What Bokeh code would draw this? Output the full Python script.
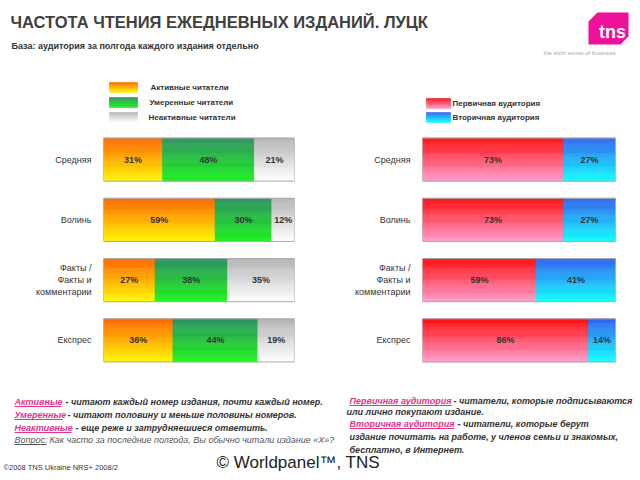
from bokeh.plotting import figure
from bokeh.layouts import column, row
from bokeh.models import ColumnDataSource, Range1d, FixedTicker
from bokeh.embed import file_html
from bokeh.resources import INLINE
from bokeh.core.properties import value

# ---------------- data ----------------
TITLE = "ЧАСТОТА ЧТЕНИЯ ЕЖЕДНЕВНЫХ ИЗДАНИЙ. ЛУЦК"
SUBTITLE = "База: аудитория за полгода каждого издания отдельно"
categories = ["Средняя", "Волинь", "Факты /\nФакты и\nкомментарии", "Експрес"]
active = [31, 59, 27, 36]
moderate = [48, 30, 38, 44]
inactive = [21, 12, 35, 19]
primary = [73, 73, 59, 86]
secondary = [27, 27, 41, 14]
freq_labels = ["Активные читатели", "Умеренные читатели", "Неактивные читатели"]
aud_labels = ["Первичная аудитория", "Вторичная аудитория"]

notes_left = [
    ("Активные", "- читают каждый номер издания, почти каждый номер."),
    ("Умеренные", "- читают половину и меньше  половины номеров."),
    ("Неактивные", "- еще реже и затрудняешиеся ответить."),
]
question_link = "Вопрос:"
question_text = "Как часто за последние полгода, Вы обычно читали издание «Х»?"
notes_right = [
    ("Первичная аудитория", "- читатели, которые подписываются", "или лично покупают издание."),
    ("Вторичная аудитория", "- читатели, которые берут",
     "издание почитать на работе, у членов семьи и знакомых,\nбесплатно, в Интернет."),
]
COPYRIGHT = "©2008 TNS Ukraine  NRS+ 2008/2"
WORLDPANEL = "© Worldpanel™, TNS"

# ---------------- styles ----------------
FONT = value("Liberation Sans")
G_ACTIVE = ("#ff6400", "#fff600")
G_MODERATE = ("#2e8f62", "#1cf21c")
G_INACTIVE = ("#b3b3b3", "#ffffff")
G_PRIMARY = ("#ff0d0d", "#ff9ccc")
G_SECONDARY = ("#3361f0", "#10ffff")
LINK = "#e3338b"
DARK = "#333333"


def blend(c1, c2, t):
    a = [int(c1[i:i + 2], 16) for i in (1, 3, 5)]
    b = [int(c2[i:i + 2], 16) for i in (1, 3, 5)]
    return "#%02x%02x%02x" % tuple(round(a[j] + (b[j] - a[j]) * t) for j in range(3))


def ramp(g, n):
    return [blend(g[0], g[1], (k + 0.5) / n) for k in range(n)]


N = 40
BAR_H = 0.715


def chart(series, grads, bl, br):
    n = len(categories)
    ypos = [n - 1 - i for i in range(n)]
    totals = [sum(s[i] for s in series) for i in range(n)]
    p = figure(width=320, height=250, x_range=Range1d(0, 100),
               y_range=Range1d(-0.5, n - 0.5), x_axis_type=None,
               output_backend="svg", toolbar_location=None,
               min_border_left=bl, min_border_right=br,
               min_border_top=1, min_border_bottom=8)
    p.outline_line_color = None
    p.grid.visible = False
    cum = [0.0] * n
    lx, ly, lt = [], [], []
    for s, g in zip(series, grads):
        cols = ramp(g, N)
        d = dict(y=[], left=[], right=[], color=[])
        for i in range(n):
            left = cum[i]
            right = left + s[i] / totals[i] * 100.0
            for k in range(N):
                d["y"].append(ypos[i] + BAR_H / 2 - (k + 0.5) * BAR_H / N)
                d["left"].append(left)
                d["right"].append(right)
                d["color"].append(cols[k])
            lx.append((left + right) / 2)
            ly.append(ypos[i])
            lt.append(f"{s[i]}%")
            cum[i] = right
        p.hbar(y="y", left="left", right="right", height=BAR_H / N,
               fill_color="color", line_color="color", line_width=0.6,
               source=ColumnDataSource(d))
    p.hbar(y=ypos, left=0, right=100, height=BAR_H, fill_color=None,
           line_color="#aaaaaa", line_width=1)
    p.text(x=lx, y=ly, text=lt, text_font=FONT, text_font_size="9px",
           text_font_style="bold", text_color=DARK, text_align="center",
           text_baseline="middle")
    ax = p.yaxis[0]
    ax.ticker = FixedTicker(ticks=ypos)
    ax.major_label_overrides = {y: c for y, c in zip(ypos, categories)}
    ax.axis_line_color = None
    ax.major_tick_line_color = None
    ax.minor_tick_line_color = None
    ax.major_label_standoff = 6
    ax.major_label_text_font = "Liberation Sans"
    ax.major_label_text_font_size = "9px"
    ax.major_label_text_color = DARK
    return p


def text_fig(h, y0, y1):
    p = figure(width=640, height=h, x_range=Range1d(0, 640), y_range=Range1d(y1, y0),
               x_axis_type=None, y_axis_type=None, output_backend="svg",
               toolbar_location=None, min_border=0)
    p.outline_line_color = None
    p.grid.visible = False
    return p


def swatch(p, x0, x1, y0, y1, g, n=10):
    cols = ramp(g, n)
    hh = (y1 - y0) / n
    p.quad(left=[x0] * n, right=[x1] * n,
           top=[y0 + k * hh for k in range(n)],
           bottom=[y0 + (k + 1) * hh for k in range(n)],
           fill_color=cols, line_color=cols, line_width=0.6)


# ---------------- header ----------------
head = text_fig(128, 0, 128)
head.text(x=[10], y=[21], text=[TITLE], text_font=FONT, text_font_size="16.5px",
          text_font_style="bold", text_color="#404040", text_baseline="middle")
head.text(x=[11], y=[45], text=[SUBTITLE], text_font=FONT, text_font_size="9px",
          text_font_style="bold", text_color=DARK, text_baseline="middle")
# logo
head.patch(x=[597, 628, 628, 620, 588, 588], y=[12, 12, 36, 44, 44, 21],
           fill_color="#f0119a", line_color=None)
head.text(x=[612], y=[31], text=["tns"], text_font=FONT, text_font_size="18px",
          text_font_style="bold", text_color="white", text_align="center",
          text_baseline="middle")
head.text(x=[543], y=[52], text=["the sixth sense of business"], text_font=FONT,
          text_font_size="6px", text_color="#a8a8a8", text_baseline="middle")
# legends
fy = [87, 102, 117]
for (lab, g, yc) in zip(freq_labels, [G_ACTIVE, G_MODERATE, G_INACTIVE], fy):
    swatch(head, 109, 137, yc - 5, yc + 5, g)
head.text(x=[150, 149, 148], y=fy, text=freq_labels, text_font=FONT,
          text_font_size="8px", text_font_style="bold", text_color=DARK,
          text_baseline="middle")
ay = [103, 117]
for (lab, g, yc) in zip(aud_labels, [G_PRIMARY, G_SECONDARY], ay):
    swatch(head, 426, 450, yc - 5, yc + 5, g)
head.text(x=[452, 452], y=ay, text=aud_labels, text_font=FONT,
          text_font_size="8px", text_font_style="bold", text_color=DARK,
          text_baseline="middle")

# ---------------- charts ----------------
left = chart([active, moderate, inactive], [G_ACTIVE, G_MODERATE, G_INACTIVE], 103, 26)
right = chart([primary, secondary], [G_PRIMARY, G_SECONDARY], 102, 25)

# ---------------- footer ----------------
foot = text_fig(102, 378, 480)
ly = [401, 414, 427]
link_end = [61, 62, 71]
rest_x = [65, 67, 75]
foot.text(x=[14] * 3, y=ly, text=[a for a, b in notes_left], text_font=FONT,
          text_font_size="9px", text_font_style="bold italic", text_color=LINK,
          text_baseline="middle")
foot.segment(x0=[14] * 3, x1=link_end, y0=[y + 5 for y in ly], y1=[y + 5 for y in ly],
             line_color=LINK, line_width=1)
foot.text(x=rest_x, y=ly, text=[b for a, b in notes_left], text_font=FONT,
          text_font_size="9px", text_font_style="bold italic", text_color=DARK,
          text_baseline="middle")
foot.text(x=[14], y=[439], text=[question_link], text_font=FONT, text_font_size="9px",
          text_font_style="italic", text_color="#555555", text_baseline="middle")
foot.segment(x0=[14], x1=[46], y0=[444], y1=[444], line_color="#555555", line_width=1)
foot.text(x=[49], y=[439], text=[question_text], text_font=FONT, text_font_size="9px",
          text_font_style="italic", text_color="#555555", text_baseline="middle")

ry = [400, 423]
foot.text(x=[349, 349], y=ry, text=[r[0] for r in notes_right], text_font=FONT,
          text_font_size="9px", text_font_style="bold italic", text_color=LINK,
          text_baseline="middle")
foot.segment(x0=[349, 349], x1=[451, 454], y0=[y + 5 for y in ry], y1=[y + 5 for y in ry],
             line_color=LINK, line_width=1)
foot.text(x=[453, 457], y=ry, text=[r[1] for r in notes_right], text_font=FONT,
          text_font_size="9px", text_font_style="bold italic", text_color=DARK,
          text_baseline="middle")
foot.text(x=[346, 349], y=[406, 431], text=[r[2] for r in notes_right], text_font=FONT,
          text_font_size="9px", text_font_style="bold italic", text_color=DARK,
          text_baseline="top", text_line_height=1.35)
foot.text(x=[3], y=[467], text=[COPYRIGHT], text_font=FONT, text_font_size="7.5px",
          text_color=DARK, text_baseline="middle")
foot.text(x=[216], y=[462], text=[WORLDPANEL], text_font=FONT, text_font_size="17px",
          text_color="#222222", text_baseline="middle")

layout = column(head, row(left, right, spacing=0), foot, spacing=0)
open("out.html", "w").write(file_html(layout, INLINE))
